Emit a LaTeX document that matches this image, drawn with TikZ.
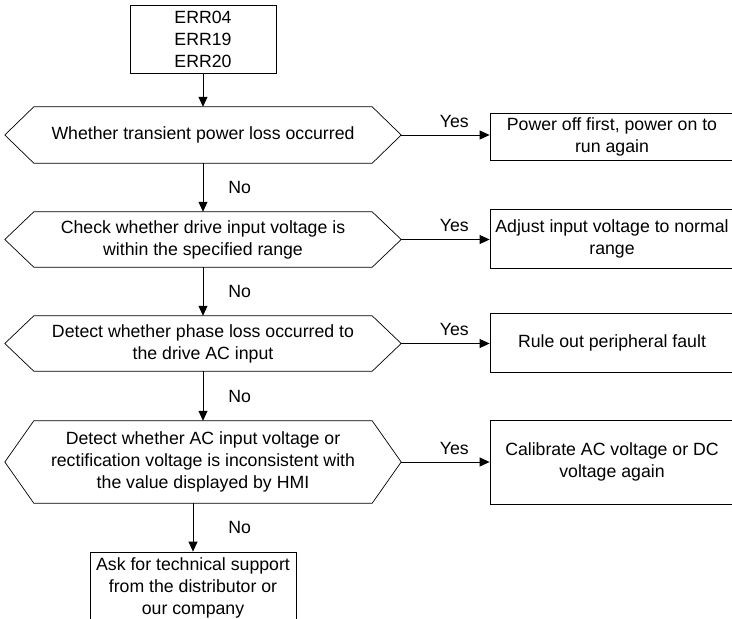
\documentclass[tikz,border=0pt]{standalone}
\usepackage{fontspec}
\setmainfont{Liberation Sans}
\usetikzlibrary{arrows.meta,calc}
\begin{document}
\begin{tikzpicture}[x=1pt,y=-1pt,
  font=\fontsize{17.7}{22}\selectfont,
  box/.style={draw, line width=0.8pt, align=center, inner sep=0pt},
  rbox/.style={box, minimum width=244pt},
  hexbox/.style={align=center, inner sep=0pt, minimum width=338pt},
  hexline/.style={line width=0.7pt},
  arr/.style={-{Triangle[length=10pt,width=9pt]}, line width=0.8pt},
  lbl/.style={inner sep=1pt},
  yeslbl/.style={lbl, above, pos=0.6, yshift=6pt}]
\useasboundingbox (0,0) rectangle (732,619);
\clip (0,0) rectangle (732,619);

\node[box, minimum width=146pt, minimum height=68pt] (start) at (203,39) {ERR04\\ERR19\\ERR20};

\node[hexbox, minimum height=56pt] (d1) at (203,135) {Whether transient power loss occurred};
\node[hexbox, minimum height=55pt] (d2) at (203,239.5) {Check whether drive input voltage is\\within the specified range};
\node[hexbox, minimum height=55pt] (d3) at (203,343.5) {Detect whether phase loss occurred to\\the drive AC input};
\node[hexbox, minimum height=82pt] (d4) at (203,462) {Detect whether AC input voltage or\\rectification voltage is inconsistent with\\the value displayed by HMI};

\foreach \d in {d1,d2,d3,d4}{
  \draw[hexline] (\d.north west) -- (\d.north east) -- ([xshift=29pt]\d.east)
    -- (\d.south east) -- (\d.south west) -- ([xshift=-29pt]\d.west) -- cycle;
  \coordinate (\d r) at ([xshift=29pt]\d.east);
}

\node[rbox, minimum height=47pt] (b1) at (612,136.5) {Power off first, power on to\\run again};
\node[rbox, minimum height=59pt] (b2) at (612,238.5) {Adjust input voltage to normal\\range};
\node[rbox, minimum height=59pt] (b3) at (612,342.5) {Rule out peripheral fault};
\node[rbox, minimum height=84pt] (b4) at (612,462) {Calibrate AC voltage or DC\\voltage again};

\node[box, minimum width=206pt, minimum height=72pt] (end) at (193,588) {Ask for technical support\\from the distributor or\\our company};

\draw[arr] (start) -- (d1);
\draw[arr] (d1) -- node[lbl, right, xshift=24pt] {No} (d2);
\draw[arr] (d2) -- node[lbl, right, xshift=24pt] {No} (d3);
\draw[arr] (d3) -- node[lbl, right, xshift=24pt] {No} (d4);
\draw[arr] (end.north |- d4.south) -- node[lbl, right, xshift=34pt] {No} (end.north);

\draw[arr] (d1r) -- node[yeslbl] {Yes} (d1r -| b1.west);
\draw[arr] (d2r) -- node[yeslbl] {Yes} (d2r -| b2.west);
\draw[arr] (d3r) -- node[yeslbl] {Yes} (d3r -| b3.west);
\draw[arr] (d4r) -- node[yeslbl] {Yes} (d4r -| b4.west);
\end{tikzpicture}
\end{document}
